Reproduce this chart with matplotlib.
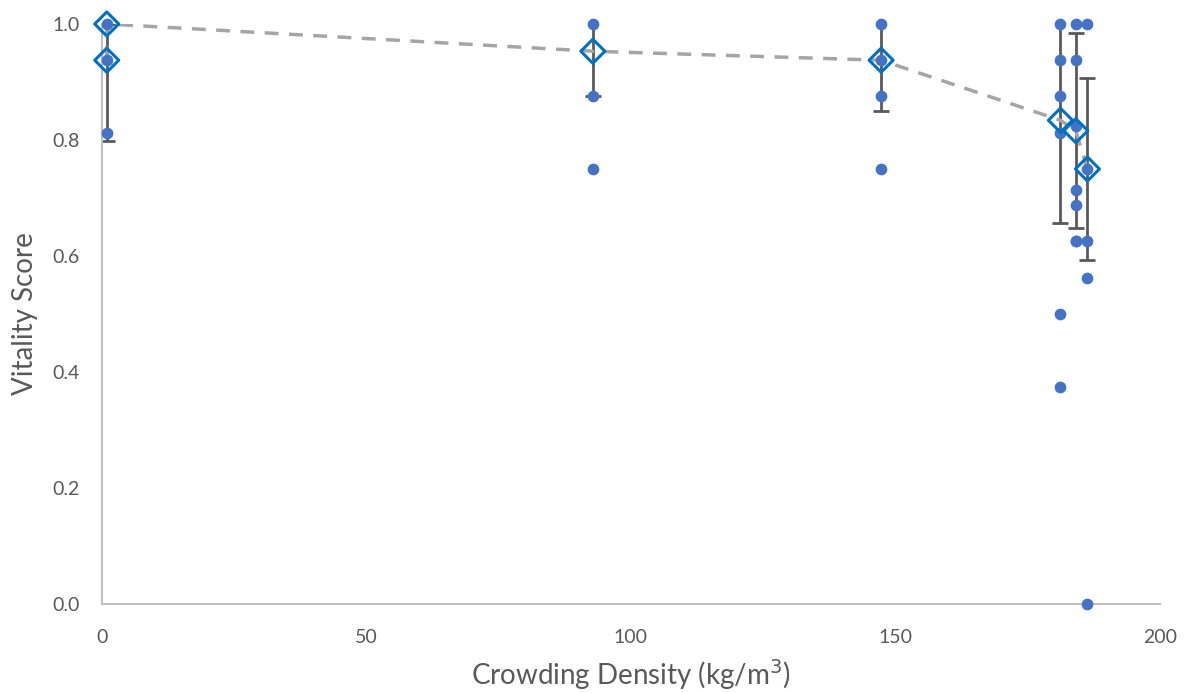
import matplotlib.pyplot as plt

plt.rcParams['font.family'] = ['Lato', 'DejaVu Sans']

# individual scores per tank
pt_x = [0.9, 0.9, 0.9,
        92.8, 92.8, 92.8,
        147.3, 147.3, 147.3, 147.3,
        181.2, 181.2, 181.2, 181.2, 181.2, 181.2,
        184.1, 184.1, 184.1, 184.1, 184.1, 184.1, 184.1,
        186.3, 186.3, 186.3, 186.3, 186.3]
pt_y = [1.0, 0.9375, 0.8125,
        1.0, 0.875, 0.75,
        1.0, 0.9375, 0.875, 0.75,
        1.0, 0.9375, 0.875, 0.8125, 0.5, 0.375,
        1.0, 0.9375, 0.8235, 0.714, 0.6875, 0.625, 0.625,
        1.0, 0.75, 0.625, 0.5625, 0.0]

# group means and standard deviations
mean_x = [0.9, 0.9, 92.8, 147.3, 181.2, 184.1, 186.3]
mean_y = [0.9375, 1.0, 0.953, 0.9375, 0.834, 0.816, 0.75]
mean_sd = [0.14, 0.0, 0.077, 0.088, 0.177, 0.168, 0.157]

xticks = [0, 50, 100, 150, 200]
yticks = [0.0, 0.2, 0.4, 0.6, 0.8, 1.0]

fig = plt.figure(figsize=(11.97, 6.93), dpi=100)
ax = fig.add_axes([0.0852, 0.1284, 0.8838, 0.837])

txt = '#595959'

ax.errorbar(mean_x, mean_y, yerr=mean_sd, fmt='none', ecolor='#595959',
            elinewidth=2, capsize=6, capthick=2, zorder=2)
ax.plot(mean_x, mean_y, color='#A5A5A5', lw=2.5, ls=(0, (4, 3)), zorder=3)
ax.scatter(pt_x, pt_y, s=55, color='#4472C4', zorder=4, clip_on=False)
ax.scatter(mean_x, mean_y, s=150, marker='D', facecolor='none',
           edgecolor='#0070C0', linewidths=2.2, zorder=5, clip_on=False)

ax.set_xlim(0, 200)
ax.set_ylim(0, 1.0)
ax.set_xticks(xticks)
ax.set_yticks(yticks)
ax.set_yticklabels([f'{v:.1f}' for v in yticks])
ax.tick_params(length=0, labelsize=14, colors=txt)
ax.tick_params(axis='x', pad=18)
ax.tick_params(axis='y', pad=16)

for s in ['top', 'right']:
    ax.spines[s].set_visible(False)
for s in ['left', 'bottom']:
    ax.spines[s].set_color('#BFBFBF')
    ax.spines[s].set_linewidth(1.5)

ax.set_xlabel('Crowding Density (kg/m$^3$)', fontsize=20, color=txt, labelpad=8)
ax.set_ylabel('Vitality Score', fontsize=20, color=txt, labelpad=10)

fig.savefig('out.png', dpi=100)
